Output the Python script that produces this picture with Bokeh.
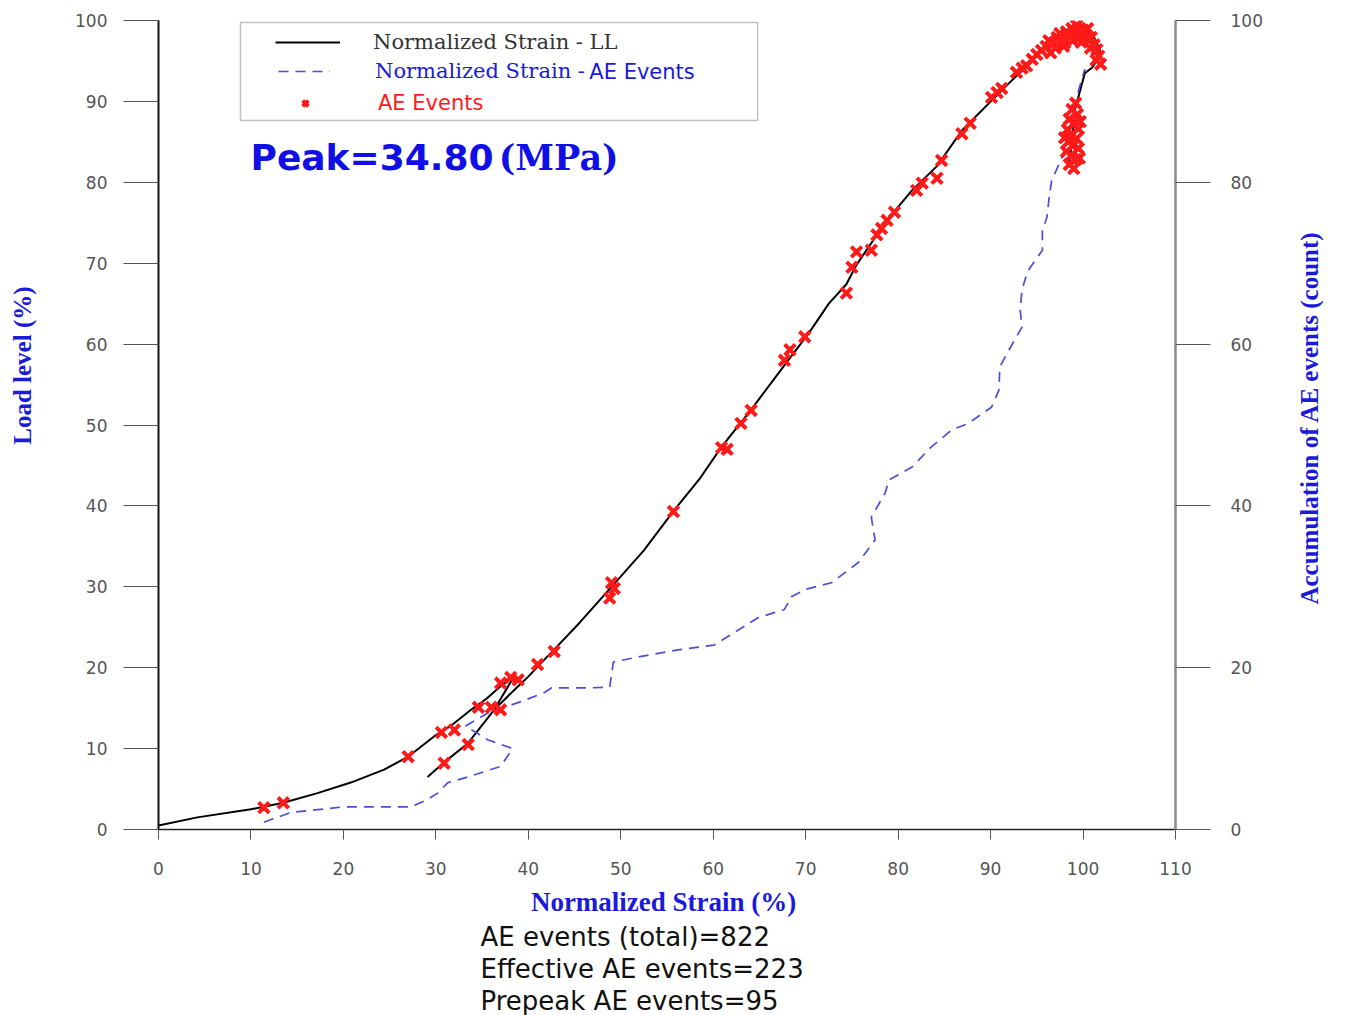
from bokeh.plotting import figure
from bokeh.models import (Range1d, LinearAxis, SingleIntervalTicker, FixedTicker, Label,
                          Legend, LegendItem, BoxAnnotation, Title)
from bokeh.embed import file_html
from bokeh.resources import INLINE
import math

# ---------------- data ----------------
# Normalized strain (%) vs load level (%)  -- black line
strain_ll = [0, 4.2, 10, 13.5, 17.2, 20.8, 24.4, 27, 29.8, 31.6, 33.8, 35.5, 37, 38.5,
             36.3, 33.5, 30.9, 29.1, 30.9, 33.5, 36.3, 38.9, 40, 41.4, 42.5, 45.5, 49,
             52.5, 55.8, 58.5, 60.9, 64.1, 68.1, 70.3, 72.5, 74.4, 75.5, 77.7, 79.3, 81.5,
             84.2, 86.9, 90.1, 92.3, 94.5, 96.3, 98.5, 99.9, 101, 102, 101, 100.2, 99.7,
             99.1, 98.8, 98.5]
load_ll = [0.5, 1.5, 2.5, 3.3, 4.5, 5.8, 7.4, 9, 11.5, 12.8, 14.8, 16.2, 17.7, 19.0,
           14.8, 10.7, 8.3, 6.5, 8.3, 10.7, 14.8, 17.7, 18.9, 20.6, 21.9, 25.5, 30,
           34.5, 39.5, 43.3, 47.3, 51.9, 58, 61.3, 65, 67.4, 69.8, 73.5, 76, 79,
           82, 86.4, 90.1, 92.6, 95, 97.5, 98.8, 99.4, 98.4, 95.9, 94.2, 93.5, 91.4,
           88.9, 84.8, 82.3]

# Normalized strain (%) vs accumulation of AE events (count) -- blue dashed line
strain_ae = [11.4, 14.3, 20, 27.3, 29.1, 30.2, 31.3, 33.5, 37, 38.3, 35.6, 33.2, 35.8,
             39.2, 41.7, 42.5, 46.5, 48.8, 49.2, 52.2, 56.2, 60.1, 62.5, 64.9, 67.7, 68.5,
             70, 72.8, 75.7, 77.5, 77.1, 78.6, 79, 81.5, 83.6, 85.8, 87.6, 90.1, 90.9, 91,
             92, 93.4, 93.2, 93.4, 94, 95.6, 95.6, 96.1, 96.3, 96.6, 97.5, 98.3, 98.8,
             99.6, 100.2]
count_ae = [0.9, 2.1, 2.8, 2.8, 3.7, 4.5, 5.8, 6.5, 7.8, 10, 11.1, 12.8, 14.5, 15.8,
            16.9, 17.5, 17.5, 17.6, 20.7, 21.4, 22.2, 22.8, 24.5, 26.2, 27.2, 28.8, 29.7,
            30.5, 33, 35.8, 38.6, 41.6, 43.2, 44.8, 47.3, 49.4, 50.2, 52.2, 54.3, 57.2,
            59.3, 62.1, 64.2, 66.7, 69, 71.6, 74, 75.7, 77.8, 80.2, 82.5, 85, 88, 91.7, 94]

# AE events (red crosses): strain (%), load level (%)
ev_strain = [11.4, 13.5, 27, 30.6, 32, 30.9, 33.5, 34.6, 36, 37, 37, 38.1, 38.9, 41, 42.8,
             48.8, 49, 49.3, 55.7, 60.9, 61.5, 63, 64.1, 67.7, 68.3, 69.9,
             74.4, 75, 75.5, 77.1, 77.7, 78.2, 78.8, 79.6, 82, 82.6, 84.2, 84.7, 86.9,
             87.8, 90.1, 90.7, 91.2, 92.8, 93.4, 93.9,
             94.5, 95, 95.5, 96, 96.3, 96.8, 97.2, 97.5, 97.8, 98.2, 98.5, 98.8, 99.1,
             99.4, 99.7, 100.0, 100.3, 100.6, 100.9, 101.2, 101.5, 101.7, 101.4, 100.8,
             99.8, 98.9, 97.9, 97.0, 99.3, 100.5, 96.5, 98.0, 101.9,
             99.2, 98.8, 99.4, 98.5, 99.0, 99.5, 98.3, 98.8, 99.3, 98.4, 98.9, 99.5,
             98.2, 98.7, 99.2, 98.5, 99.0, 99.6, 98.0, 99.7]
ev_load = [2.7, 3.3, 9, 12, 12.3, 8.2, 10.5, 15.1, 15.1, 14.8, 18.1, 18.8, 18.5, 20.4, 22,
           28.6, 30.5, 29.8, 39.3, 47.2, 47.0, 50.2, 51.8, 58, 59.3, 60.9,
           66.3, 69.5, 71.4, 71.6, 73.5, 74.3, 75.3, 76.3, 79, 79.9, 80.5, 82.7, 86,
           87.3, 90.5, 91.1, 91.6, 93.6, 94.1, 94.4,
           95.2, 95.8, 96.3, 96.8, 97.5, 97.2, 97.9, 98.4, 97.6, 98.6, 98.0, 99.0, 98.3,
           98.9, 98.1, 98.8, 98.2, 97.6, 97.9, 97.0, 96.4, 95.6, 95.1, 96.6,
           97.3, 97.5, 96.8, 96.6, 99.4, 99.0, 96.0, 97.2, 94.6,
           89.8, 89.0, 88.4, 87.8, 87.2, 86.6, 86.5, 86.0, 85.4, 85.0, 84.5, 84.2,
           83.8, 83.3, 82.8, 82.2, 81.7, 83.0, 85.5, 87.5]

x_ticks_interval = 10
left_ticks_interval = 10
right_ticks_interval = 20
summary_lines = ["AE events (total)=822", "Effective AE events=223", "Prepeak AE events=95"]
peak_text = "Peak=34.80"
peak_unit = "(MPa)"
right_title = "Accumulation of AE events  (count)"

BLUE = "#1a1ad8"
TICK_COL = "#555555"
NB = "\u00a0"

# ---------------- figure ----------------
p = figure(width=1349, height=1015, x_range=Range1d(0, 110), y_range=Range1d(0, 100),
           output_backend="svg", toolbar_location=None,
           min_border_left=158, min_border_right=174, min_border_top=20, min_border_bottom=185)
p.extra_y_ranges = {"ae": Range1d(0, 100)}
p.outline_line_color = None
p.grid.visible = False

# bottom axis
xa = p.xaxis[0]
xa.ticker = SingleIntervalTicker(interval=x_ticks_interval)
xa.minor_tick_line_color = None
xa.major_tick_in = 0
xa.major_tick_out = 10
xa.major_tick_line_color = TICK_COL
xa.axis_line_color = "#222222"
xa.axis_line_width = 1.5
xa.major_label_standoff = 22
xa.major_label_text_font = "DejaVu Sans"
xa.major_label_text_font_size = "17px"
xa.major_label_text_color = TICK_COL
xa.axis_label = "Normalized Strain  (%)"
xa.axis_label_text_font = "Liberation Serif"
xa.axis_label_text_font_style = "bold"
xa.axis_label_text_font_size = "27px"
xa.axis_label_text_color = BLUE
xa.axis_label_standoff = 9

# left axis
ya = p.yaxis[0]
ya.ticker = SingleIntervalTicker(interval=left_ticks_interval)
ya.minor_tick_line_color = None
ya.major_tick_in = 0
ya.major_tick_out = 35
ya.major_tick_line_color = TICK_COL
ya.axis_line_color = "#111111"
ya.axis_line_width = 2
ya.major_label_standoff = 16
ya.major_label_text_font = "DejaVu Sans"
ya.major_label_text_font_size = "17px"
ya.major_label_text_color = TICK_COL
ya.axis_label = NB * 20 + "Load level  (%)"
ya.axis_label_text_font = "Liberation Serif"
ya.axis_label_text_font_style = "bold"
ya.axis_label_text_font_size = "25px"
ya.axis_label_text_color = BLUE
ya.axis_label_standoff = 36

# right axis (ticks)
ra = LinearAxis(y_range_name="ae", ticker=SingleIntervalTicker(interval=right_ticks_interval))
ra.minor_tick_line_color = None
ra.major_tick_in = 0
ra.major_tick_out = 35
ra.major_tick_line_color = TICK_COL
ra.axis_line_color = "#8a8a8a"
ra.axis_line_width = 2.5
ra.major_label_standoff = 20
ra.major_label_text_font = "DejaVu Sans"
ra.major_label_text_font_size = "17px"
ra.major_label_text_color = TICK_COL
p.add_layout(ra, "right")

# right axis title, drawn as a rotated label of a bare axis (reads bottom to top)
title_pos = 27.8
ra2 = LinearAxis(y_range_name="ae", ticker=FixedTicker(ticks=[title_pos]),
                 major_label_overrides={title_pos: right_title})
ra2.minor_tick_line_color = None
ra2.major_tick_line_color = None
ra2.major_tick_in = 0
ra2.major_tick_out = 0
ra2.axis_line_color = None
ra2.major_label_orientation = math.pi / 2
ra2.major_label_standoff = 44
ra2.major_label_text_font = "Liberation Serif"
ra2.major_label_text_font_style = "bold"
ra2.major_label_text_font_size = "25px"
ra2.major_label_text_color = BLUE
p.add_layout(ra2, "right")

# ---------------- data glyphs ----------------
r_ll = p.line(strain_ll, load_ll, line_color="black", line_width=2)
r_ae = p.line(strain_ae, count_ae, y_range_name="ae", line_color="#4d4dd6",
              line_width=1.7, line_dash="10 7")
r_ev = p.scatter(ev_strain, ev_load, marker="x", size=15, line_width=4,
                 line_color="#ff1a1a")

# ---------------- legend ----------------
frame_box = BoxAnnotation(left=8.87, right=64.8, top=99.75, bottom=87.65,
                          fill_alpha=0, line_color="#333333", line_width=1.5)
p.add_layout(frame_box)

def mk_legend(item, loc, gw, standoff, color, font):
    lg = Legend(items=[item], location=loc, orientation="vertical",
                glyph_width=gw, glyph_height=22, label_height=22,
                label_standoff=standoff, padding=0, margin=0, spacing=0,
                border_line_color=None, background_fill_alpha=0,
                label_text_color=color, label_text_font=font,
                label_text_font_size="21px")
    p.add_layout(lg)
    return lg

mk_legend(LegendItem(label="Normalized Strain - LL", renderers=[r_ll]),
          (117, 775), 65, 33, "#333333", "DejaVu Serif")
mk_legend(LegendItem(label="Normalized Strain - ", renderers=[r_ae]),
          (120, 746), 52, 45, BLUE, "DejaVu Serif")
mk_legend(LegendItem(label="AE Events", renderers=[r_ev]),
          (137, 714), 20, 63, "#ff1a1a", "DejaVu Sans")

p.add_layout(Label(x=46.6, y=93.6, text="AE Events", text_font="DejaVu Sans",
                   text_font_size="21px", text_color=BLUE, text_baseline="middle"))

# ---------------- texts ----------------
p.add_layout(Label(x=9.95, y=83.1, text=peak_text, text_font="DejaVu Sans",
                   text_font_style="bold", text_font_size="36px", text_color="#1010e6",
                   text_baseline="middle"))
p.add_layout(Label(x=36.8, y=83.1, text=peak_unit, text_font="DejaVu Serif",
                   text_font_style="bold", text_font_size="35px", text_color="#1010e6",
                   text_baseline="middle"))

for t in summary_lines:
    p.add_layout(Title(text=t, align="left", offset=322, standoff=0,
                       text_font="DejaVu Sans", text_font_style="normal",
                       text_font_size="26px", text_color="#111111"), "below")

open("out.html", "w").write(file_html(p, INLINE))
